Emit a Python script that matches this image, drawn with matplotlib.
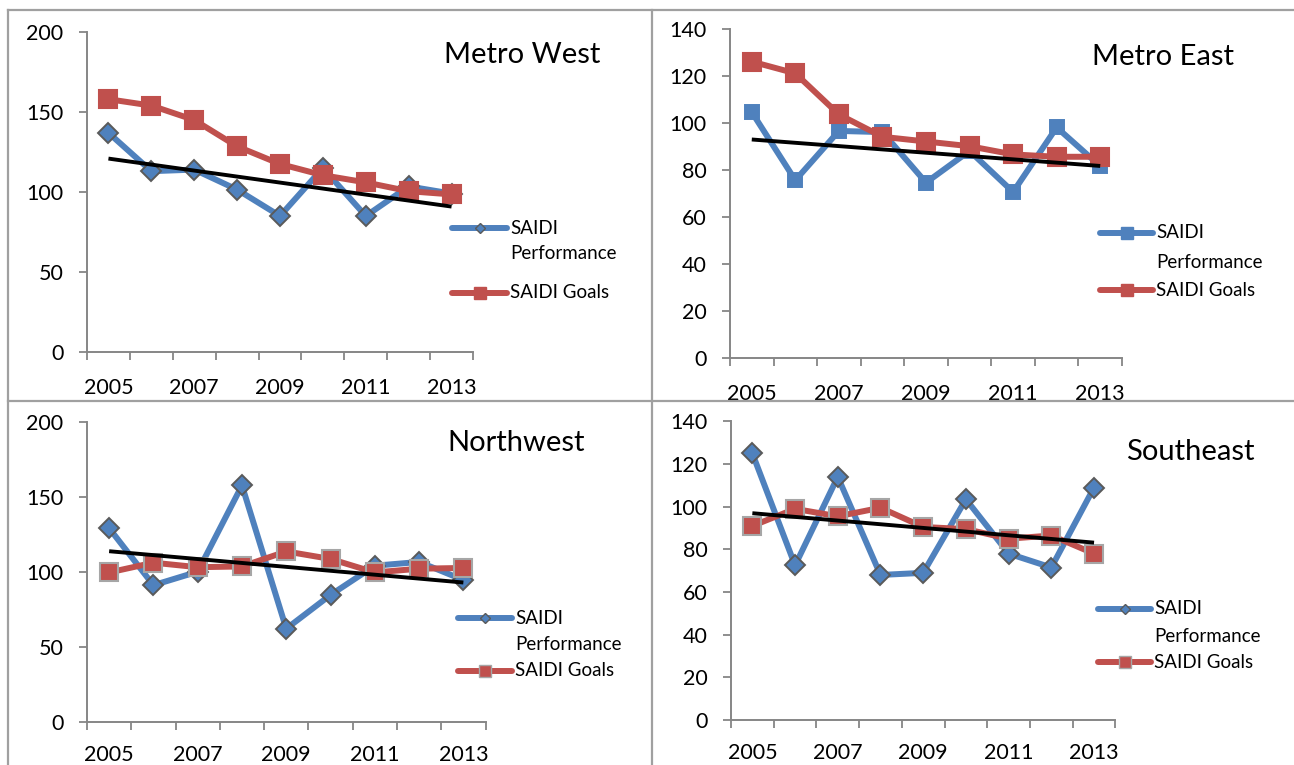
import numpy as np
import matplotlib
matplotlib.use('Agg')
import matplotlib.pyplot as plt
from matplotlib.lines import Line2D

plt.rcParams['font.family'] = ['Lato', 'DejaVu Sans']

# ---------------- data ----------------
years = ['2005', '2006', '2007', '2008', '2009', '2010', '2011', '2012', '2013']

metro_west_perf = [137, 113, 114, 101.5, 85, 115, 85, 103.5, 99]
metro_west_goal = [158, 154, 145, 128.5, 117.5, 110.5, 106, 100.5, 98.5]

metro_east_perf = [104.5, 75.5, 96.5, 96, 74.5, 88, 70.5, 98, 81.5]
metro_east_goal = [126, 121, 103.5, 94, 92, 90, 86.5, 85.5, 85.5]

northwest_perf = [129, 91, 100, 157.5, 62, 84.5, 104, 106.5, 94.5]
northwest_goal = [99.5, 106, 103, 103.5, 113.5, 108.5, 99.5, 102, 102.5]

southeast_perf = [125, 72.5, 114, 68, 69, 103.5, 78, 71.5, 109]
southeast_goal = [91, 99, 95.5, 99.5, 90.5, 89.5, 85, 86.5, 78]

titles = ['Metro West', 'Metro East', 'Northwest', 'Southeast']
legend_labels = ['SAIDI\nPerformance', 'SAIDI Goals']

# ---------------- style ----------------
W, H = 1294, 765
BLUE = '#4F81BD'
RED = '#C0504D'
AXC = '#868686'
BORDER = '#A0A0A0'


def fx(px):
    return px / W


def fy(py):
    return 1 - py / H


fig = plt.figure(figsize=(W / 100, H / 100), dpi=100)

# panel borders
for xs, ys in [([8, 8], [10, H]), ([8, W], [10, 10]), ([652, 652], [10, H]), ([8, W], [401, 401])]:
    fig.add_artist(Line2D([fx(v) for v in xs], [fy(v) for v in ys], color=BORDER, lw=1.6))

panels = [
    dict(title=titles[0], perf=metro_west_perf, goal=metro_west_goal, ymax=200, ystep=50,
         box=(87, 473, 32, 352), pm='D', pms=10, pmec='#5A5A5A', gmec=RED, xpad=19,
         title_xy=(522, 55), leg=(452, 507, 228, 254, 293)),
    dict(title=titles[1], perf=metro_east_perf, goal=metro_east_goal, ymax=140, ystep=20,
         box=(730, 1122, 28.7, 357.7), pm='s', pms=10, pmec=BLUE, gmec=RED, xpad=19,
         title_xy=(1163, 57), leg=(1100, 1153, 233, 262, 290)),
    dict(title=titles[2], perf=northwest_perf, goal=northwest_goal, ymax=200, ystep=50,
         box=(87, 485.5, 421.7, 721.7), pm='D', pms=10, pmec='#5A5A5A', gmec='#A6A6A6', xpad=16.5,
         title_xy=(516, 443), leg=(458, 512, 618, 645, 671)),
    dict(title=titles[3], perf=southeast_perf, goal=southeast_goal, ymax=140, ystep=20,
         box=(731, 1115.4, 421.4, 720), pm='D', pms=10, pmec='#5A5A5A', gmec='#A6A6A6', xpad=16.5,
         title_xy=(1190, 452), leg=(1098, 1151, 609, 636, 662)),
]

x = np.arange(len(years))

for p in panels:
    l, r, t, b = p['box']
    ax = fig.add_axes([fx(l), fy(b), fx(r) - fx(l), fy(t) - fy(b)])
    ax.patch.set_visible(False)

    ax.plot(x, p['perf'], color=BLUE, lw=4.3, marker=p['pm'], ms=p['pms'],
            mfc=BLUE, mec=p['pmec'], mew=1.4, zorder=3, clip_on=False)
    ax.plot(x, p['goal'], color=RED, lw=4.3, marker='s', ms=13.5,
            mfc=RED, mec=p['gmec'], mew=1.5, zorder=4, clip_on=False)

    slope, icpt = np.polyfit(x, np.asarray(p['perf'], dtype=float), 1)
    xe = x[[0, -1]]
    ax.plot(xe, icpt + slope * xe, color='black', lw=2.8, zorder=6,
            solid_capstyle='butt', clip_on=False)

    ax.set_xlim(-0.5, len(years) - 0.5)
    ax.set_ylim(0, p['ymax'])
    ax.set_xticks(np.arange(-0.5, len(years)))
    ax.set_xticklabels([])
    ax.set_xticks(x[::2], minor=True)
    ax.set_xticklabels(years[::2], minor=True)
    ax.tick_params(axis='x', which='major', length=6, width=1.3, color=AXC, direction='out')
    ax.tick_params(axis='x', which='minor', length=0, pad=p['xpad'], labelsize=15.5)
    ax.set_yticks(np.arange(0, p['ymax'] + 1, p['ystep']))
    ax.tick_params(axis='y', length=6, width=1.3, color=AXC, pad=11, labelsize=15.5)
    for s in ['top', 'right']:
        ax.spines[s].set_visible(False)
    for s in ['left', 'bottom']:
        ax.spines[s].set_color(AXC)
        ax.spines[s].set_linewidth(1.4)

    tx, ty = p['title_xy']
    fig.text(fx(tx), fy(ty), p['title'], ha='center', va='center', fontsize=21)

    # legend
    x0, x1, yb, yp, yr = p['leg']
    xm = (x0 + x1) / 2
    fig.add_artist(Line2D([fx(x0), fx(x1)], [fy(yb), fy(yb)], color=BLUE, lw=4.3,
                          solid_capstyle='round'))
    fig.add_artist(Line2D([fx(xm)], [fy(yb)], marker=p['pm'],
                          ms=5 if p['pm'] == 'D' else 8, mfc=BLUE, mec=p['pmec'], mew=1.0))
    fig.add_artist(Line2D([fx(x0), fx(x1)], [fy(yr), fy(yr)], color=RED, lw=4.3,
                          solid_capstyle='round'))
    fig.add_artist(Line2D([fx(xm)], [fy(yr)], marker='s', ms=8, mfc=RED,
                          mec=p['gmec'], mew=1.0))
    first, second = legend_labels[0].split('\n')
    fig.text(fx(x1 + 3), fy(yb), first, ha='left', va='center', fontsize=13.5)
    fig.text(fx(x1 + 3), fy(yp), second, ha='left', va='center', fontsize=13.5)
    fig.text(fx(x1 + 3), fy(yr), legend_labels[1], ha='left', va='center', fontsize=13.5)

fig.savefig('out.png', dpi=100)
